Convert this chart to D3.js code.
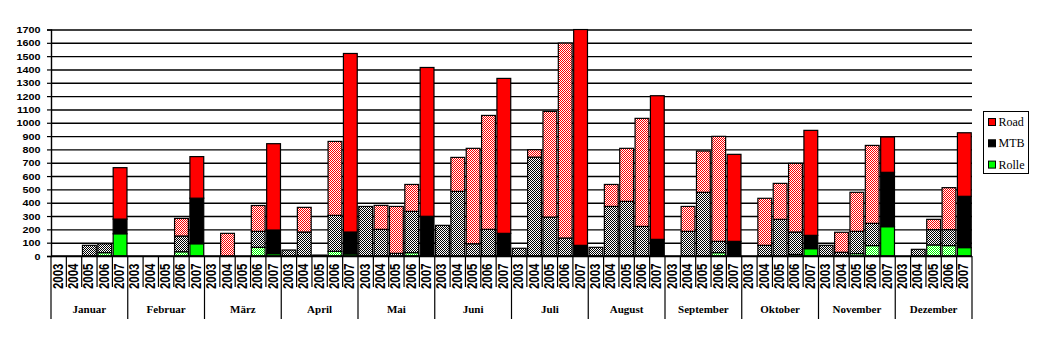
<!DOCTYPE html>
<html>
<head>
<meta charset="utf-8">
<script src="https://cdn.jsdelivr.net/npm/d3@7"></script>
<style>
  html, body { margin: 0; padding: 0; background: #fff; }
  svg { display: block; }
</style>
</head>
<body>
<svg id="chart" width="1038" height="339"></svg>
<script>
// Monthly training kilometres per year, split by discipline
const months = ["Januar", "Februar", "März", "April", "Mai", "Juni", "Juli", "August", "September", "Oktober", "November", "Dezember"];
const years = ["2003", "2004", "2005", "2006", "2007"];
const yTicks = d3.range(0, 1701, 100);

// one row per month, one value per year (2003..2007)
const rolle = [
  [0, 0, 0, 25, 167], [0, 0, 0, 32, 92], [0, 0, 0, 65, 17], [0, 0, 0, 35, 15],
  [0, 0, 0, 25, 0], [0, 0, 0, 0, 0], [0, 0, 0, 0, 0], [0, 0, 0, 0, 0],
  [0, 0, 0, 25, 0], [0, 0, 0, 12, 55], [0, 0, 18, 78, 220], [0, 0, 83, 78, 63]
];
const mtb = [
  [0, 0, 80, 67, 110], [0, 0, 0, 118, 342], [0, 0, 0, 120, 178], [45, 180, 7, 270, 165],
  [372, 200, 20, 310, 298], [230, 485, 92, 200, 170], [58, 742, 292, 135, 80], [65, 372, 410, 222, 125],
  [0, 185, 478, 85, 110], [0, 80, 275, 168, 100], [80, 28, 167, 167, 408], [0, 50, 115, 120, 385]
];
const road = [
  [0, 0, 0, 0, 386], [0, 0, 0, 132, 312], [0, 170, 0, 194, 648], [0, 185, 0, 555, 1340],
  [0, 180, 352, 202, 1117], [0, 255, 716, 855, 1163], [0, 56, 793, 1463, 1620], [0, 165, 398, 811, 1078],
  [0, 187, 310, 788, 653], [0, 353, 270, 515, 788], [0, 150, 293, 585, 265], [0, 0, 77, 315, 477]
];

const seriesKeys = ["Rolle", "MTB", "Road"];
const colors = { Rolle: "#00FF00", MTB: "#000000", Road: "#FF0000" };

const rows = [];
months.forEach((m, mi) => years.forEach((yr, yi) => {
  rows.push({ idx: mi * years.length + yi, month: m, year: yr,
    Rolle: rolle[mi][yi], MTB: mtb[mi][yi], Road: road[mi][yi] });
}));

const svg = d3.select("#chart");
const plotLeft = 51, plotRight = 972, plotTop = 29.5, plotBottom = 256;

const x = d3.scaleBand().domain(rows.map(d => d.idx)).range([plotLeft, plotRight]).paddingInner(0.1).paddingOuter(0.05);
const step = x.step();
const y = d3.scaleLinear().domain([0, 1700]).range([plotBottom, plotTop]);

// dithered fills for earlier years
const defs = svg.append("defs");
seriesKeys.forEach(k => {
  const p = defs.append("pattern").attr("id", "pat-" + k)
    .attr("patternUnits", "userSpaceOnUse").attr("width", 2).attr("height", 2);
  p.append("rect").attr("width", 2).attr("height", 2).attr("fill", "#fff");
  p.append("rect").attr("x", 0).attr("y", 0).attr("width", 1).attr("height", 1).attr("fill", colors[k]);
  p.append("rect").attr("x", 1).attr("y", 1).attr("width", 1).attr("height", 1).attr("fill", colors[k]);
});
defs.append("clipPath").attr("id", "plotClip").append("rect")
  .attr("x", plotLeft - 2).attr("y", plotTop - 1).attr("width", plotRight - plotLeft + 4).attr("height", plotBottom - plotTop + 2);

// horizontal gridlines
svg.append("g")
  .attr("transform", `translate(${plotLeft},0)`)
  .call(d3.axisLeft(y).tickValues(yTicks).tickSize(-(plotRight - plotLeft)).tickFormat(""))
  .call(g => g.select(".domain").remove())
  .call(g => g.selectAll("line").attr("stroke", "#000").attr("stroke-width", 1.4));

// stacked bars
const stacked = d3.stack().keys(seriesKeys)(rows);
const barG = svg.append("g").attr("clip-path", "url(#plotClip)");
stacked.forEach(layer => {
  const k = layer.key;
  barG.append("g").selectAll("rect")
    .data(layer.filter(s => s[1] - s[0] > 0))
    .join("rect")
    .attr("x", s => x(s.data.idx))
    .attr("width", x.bandwidth())
    .attr("y", s => y(s[1]))
    .attr("height", s => y(s[0]) - y(s[1]))
    .attr("fill", s => s.data.year === "2007" ? colors[k] : `url(#pat-${k})`)
    .attr("stroke", "#000")
    .attr("stroke-width", 1.2);
});

// value axis
svg.append("g")
  .attr("transform", `translate(${plotLeft},0)`)
  .call(d3.axisLeft(y).tickValues(yTicks).tickSize(4).tickFormat(d3.format("d")))
  .call(g => g.select(".domain").attr("stroke", "#000").attr("stroke-width", 1.4))
  .call(g => g.selectAll("line").attr("stroke", "#000").attr("stroke-width", 1.2))
  .call(g => g.selectAll("text").each(function () {
    d3.select(this)
      .attr("font-family", "Liberation Sans, Arial, sans-serif").attr("font-weight", "bold")
      .attr("font-size", 9).attr("fill", "#000").attr("x", null).attr("dy", "0.34em")
      .attr("text-anchor", "end")
      .attr("transform", "translate(-10.5,0) scale(1.2,1)");
  }));

// baseline
svg.append("line").attr("x1", plotLeft).attr("x2", plotRight).attr("y1", plotBottom).attr("y2", plotBottom)
  .attr("stroke", "#000").attr("stroke-width", 1.4);

// category axis: year ticks, month separators
const catG = svg.append("g");
rows.forEach(d => {
  const bx = x(d.idx) - (x.paddingInner() * step) / 2;
  const isMonthStart = d.year === years[0];
  catG.append("line")
    .attr("x1", bx).attr("x2", bx).attr("y1", plotBottom).attr("y2", isMonthStart ? 319 : 287)
    .attr("stroke", "#000").attr("stroke-width", 1.2);
});
catG.append("line").attr("x1", plotRight).attr("x2", plotRight).attr("y1", plotBottom).attr("y2", 319)
  .attr("stroke", "#000").attr("stroke-width", 1.2);

// year labels
svg.append("g").selectAll("text").data(rows).join("text")
  .attr("transform", d => `translate(${x(d.idx) + x.bandwidth() / 2 + 4},263.5) scale(1.2,1) rotate(-90)`)
  .attr("text-anchor", "end")
  .attr("font-family", "Liberation Sans, Arial, sans-serif").attr("font-weight", "bold")
  .attr("font-size", 11.5).attr("fill", "#000")
  .text(d => d.year);

// month labels
svg.append("g").selectAll("text").data(months).join("text")
  .attr("transform", (m, i) => {
    const x0 = x(i * years.length), x1 = x(i * years.length + 4) + x.bandwidth();
    return `translate(${(x0 + x1) / 2},313)`;
  })
  .attr("text-anchor", "middle")
  .attr("font-family", "Liberation Serif, Times New Roman, serif").attr("font-weight", "bold")
  .attr("font-size", 11).attr("fill", "#000")
  .text(m => m);

// legend
const leg = svg.append("g");
leg.append("rect").attr("x", 983.5).attr("y", 111.5).attr("width", 45).attr("height", 62)
  .attr("fill", "#fff").attr("stroke", "#000").attr("stroke-width", 1);
["Road", "MTB", "Rolle"].forEach((k, i) => {
  const yy = 118 + i * 21.3;
  leg.append("rect").attr("x", 988.5).attr("y", yy + 0.5).attr("width", 7).attr("height", 7)
    .attr("fill", colors[k]).attr("stroke", "#000").attr("stroke-width", 1);
  leg.append("text").attr("x", 998.5).attr("y", yy + 8)
    .attr("font-family", "Liberation Serif, Times New Roman, serif").attr("font-size", 12)
    .attr("fill", "#000").text(k);
});
</script>
</body>
</html>
